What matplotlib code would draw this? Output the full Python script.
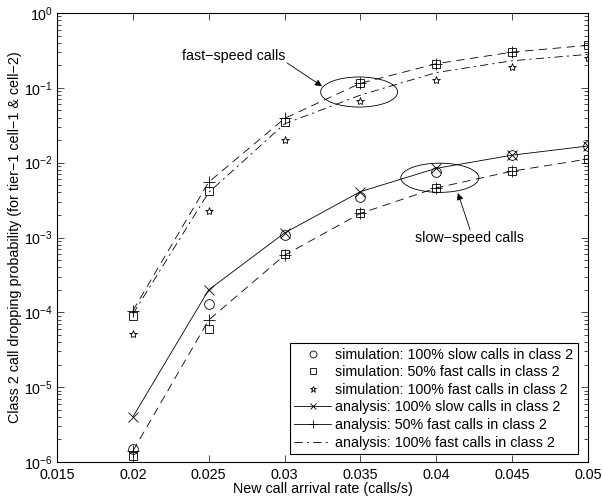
import matplotlib
matplotlib.use("Agg")
import matplotlib.pyplot as plt
from matplotlib.lines import Line2D
from matplotlib.patches import Ellipse

plt.rcParams['font.family'] = ['Liberation Sans', 'DejaVu Sans']
plt.rcParams['font.size'] = 10.3
plt.rcParams['lines.scale_dashes'] = False

# arrival rate (calls/s)
rate = [0.02, 0.025, 0.03, 0.035, 0.04, 0.045, 0.05]

# slow-speed calls
sim_slow100 = [1.5e-6, 1.3e-4, 1.07e-3, 3.5e-3, 7.5e-3, 0.0126, 0.0167]
ana_slow100 = [4.0e-6, 2.0e-4, 1.15e-3, 4.1e-3, 8.4e-3, 0.0126, 0.0167]
sim_slow_fast50 = [1.2e-6, 6.0e-5, 6.0e-4, 2.1e-3, 4.6e-3, 7.7e-3, 0.0112]
ana_slow_fast50 = [1.4e-6, 7.9e-5, 5.8e-4, 2.1e-3, 4.6e-3, 7.7e-3, 0.0112]

# fast-speed calls
sim_fast_fast50 = [9.0e-5, 4.2e-3, 0.035, 0.115, 0.21, 0.30, 0.37]
ana_fast_fast50 = [1.05e-4, 5.5e-3, 0.039, 0.115, 0.21, 0.30, 0.37]
sim_fast100 = [5.1e-5, 2.25e-3, 0.020, 0.066, 0.127, 0.19, 0.25]
ana_fast100 = [9.5e-5, 4.0e-3, 0.033, 0.080, 0.16, 0.23, 0.28]

legend_labels = [
    "simulation: 100% slow calls in class 2",
    "simulation: 50% fast calls in class 2",
    "simulation: 100% fast calls in class 2",
    "analysis: 100% slow calls in class 2",
    "analysis: 50% fast calls in class 2",
    "analysis: 100% fast calls in class 2",
]

DASH = (0, (6, 4))
DASHDOT = (0, (6, 3, 1.5, 3))
LW = 0.6

fig = plt.figure(figsize=(6.02, 5.0), dpi=100)
ax = fig.add_axes([57 / 602, 38 / 500, 531 / 602, 449 / 500])

# analysis curves
ax.plot(rate, ana_slow100, color='k', lw=LW, marker='x', ms=7, mew=0.6)
ax.plot(rate, ana_slow_fast50, color='k', lw=LW, ls=DASH, marker='+', ms=9, mew=0.6)
ax.plot(rate, ana_fast_fast50, color='k', lw=LW, ls=DASH, marker='+', ms=9, mew=0.6)
ax.plot(rate, ana_fast100, color='k', lw=LW, ls=DASHDOT)

# simulation points
ax.plot(rate, sim_slow100, ls='none', marker='o', ms=7, mfc='none', mec='k', mew=0.6)
ax.plot(rate, sim_slow_fast50, ls='none', marker='s', ms=6, mfc='none', mec='k', mew=0.6)
ax.plot(rate, sim_fast_fast50, ls='none', marker='s', ms=6, mfc='none', mec='k', mew=0.6)
ax.plot(rate, sim_fast100, ls='none', marker='*', ms=6, mfc='none', mec='k', mew=0.6)

ax.set_yscale('log')
ax.set_xlim(0.015, 0.05)
ax.set_ylim(1e-6, 1)
ax.set_xticks([0.015, 0.02, 0.025, 0.03, 0.035, 0.04, 0.045, 0.05])
ax.set_xticklabels(['0.015', '0.02', '0.025', '0.03', '0.035', '0.04', '0.045', '0.05'])
ax.tick_params(which='both', direction='in', top=True, right=True, width=0.5)
ax.tick_params(which='major', length=5)
ax.tick_params(which='minor', length=3)
ax.tick_params(axis='x', pad=4)
ax.tick_params(axis='y', pad=3)
for s in ax.spines.values():
    s.set_linewidth(0.8)

ax.set_xlabel("New call arrival rate (calls/s)", labelpad=0)
ax.set_ylabel("Class 2 call dropping probability (for tier\u22121 cell\u22121 & cell\u22122)", labelpad=1)

# ellipses + annotations
ax.add_patch(Ellipse((0.569, 0.824), 0.145, 0.067, transform=ax.transAxes,
                     fill=False, ec='k', lw=0.6))
ax.add_patch(Ellipse((0.721, 0.633), 0.147, 0.065, transform=ax.transAxes,
                     fill=False, ec='k', lw=0.6))
ax.text(0.430, 0.904, "fast\u2212speed calls", transform=ax.transAxes, ha='right', va='center')
ax.annotate("", xy=(0.499, 0.837), xytext=(0.433, 0.889), xycoords='axes fraction',
            textcoords='axes fraction',
            arrowprops=dict(arrowstyle='-|>', lw=0.6, color='k', mutation_scale=10, shrinkA=0, shrinkB=0))
ax.text(0.776, 0.499, "slow\u2212speed calls", transform=ax.transAxes, ha='center', va='center')
ax.annotate("", xy=(0.755, 0.599), xytext=(0.778, 0.517), xycoords='axes fraction',
            textcoords='axes fraction',
            arrowprops=dict(arrowstyle='-|>', lw=0.6, color='k', mutation_scale=10, shrinkA=0, shrinkB=0))

handles = [
    Line2D([], [], ls='none', marker='o', ms=5, mfc='none', mec='k', mew=0.6),
    Line2D([], [], ls='none', marker='s', ms=4.5, mfc='none', mec='k', mew=0.6),
    Line2D([], [], ls='none', marker='*', ms=5, mfc='none', mec='k', mew=0.6),
    Line2D([], [], color='k', lw=LW, marker='x', ms=4, mew=0.6),
    Line2D([], [], color='k', lw=LW, marker='+', ms=6, mew=0.6),
    Line2D([], [], color='k', lw=LW, ls=DASHDOT),
]
leg = ax.legend(handles, legend_labels, loc='lower right', bbox_to_anchor=(0.981, 0.018),
                borderaxespad=0, handlelength=2.6, handletextpad=0.3, labelspacing=0.25,
                fancybox=False, framealpha=1, edgecolor='k', borderpad=0.3, numpoints=1)
leg.get_frame().set_linewidth(0.8)

fig.savefig("out.png", dpi=100)
